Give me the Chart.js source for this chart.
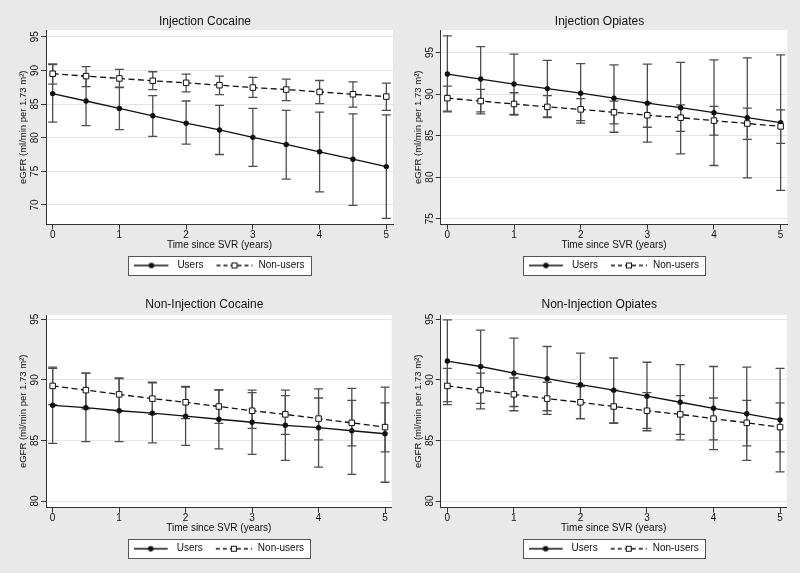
<!DOCTYPE html>
<html>
<head>
<meta charset="utf-8">
<title>eGFR after SVR by drug use</title>
<script src="https://cdn.jsdelivr.net/npm/chart.js@4.4.1/dist/chart.umd.min.js"></script>
<style>
    html, body { margin: 0; padding: 0; background: #e9e9e9; }
    #wrap { position: relative; width: 800px; height: 573px; overflow: hidden; }
    #wrap canvas { position: absolute; }
</style>
</head>
<body>
<div id="wrap">
    <canvas id="injCocaine" width="400" height="286" style="left:0;top:0"></canvas>
    <canvas id="injOpiates" width="400" height="286" style="left:400px;top:0"></canvas>
    <canvas id="nonInjCocaine" width="400" height="287" style="left:0;top:286px"></canvas>
    <canvas id="nonInjOpiates" width="400" height="287" style="left:400px;top:286px"></canvas>
</div>
<script>
// Time points (years since SVR)
const years = [0, 0.5, 1, 1.5, 2, 2.5, 3, 3.5, 4, 4.5, 5];

// Non-users (same reference group in every panel)
const nonUsersMean = [89.5, 89.15, 88.8, 88.45, 88.15, 87.8, 87.45, 87.15, 86.8, 86.45, 86.1];
const nonUsersLo   = [87.95, 87.6, 87.45, 87.15, 86.8, 86.4, 86.0, 85.5, 85.05, 84.55, 84.05];
const nonUsersHi   = [90.95, 90.55, 90.15, 89.8, 89.45, 89.15, 88.95, 88.7, 88.5, 88.3, 88.1];

// Injection cocaine users
const injCocaineMean = [86.55, 85.45, 84.35, 83.25, 82.15, 81.15, 80.05, 79.0, 77.9, 76.8, 75.7];
const injCocaineLo   = [82.3, 81.8, 81.2, 80.2, 79.05, 77.5, 75.75, 73.85, 71.95, 69.95, 68.0];
const injCocaineHi   = [90.85, 89.1, 87.5, 86.25, 85.45, 84.8, 84.35, 84.05, 83.8, 83.55, 83.4];

// Injection opiates users
const injOpiatesMean = [92.4, 91.8, 91.2, 90.65, 90.1, 89.5, 88.9, 88.35, 87.75, 87.15, 86.55];
const injOpiatesLo   = [87.85, 87.85, 87.55, 87.25, 86.5, 85.4, 84.2, 82.8, 81.4, 79.9, 78.4];
const injOpiatesHi   = [97.0, 95.7, 94.8, 94.05, 93.65, 93.5, 93.6, 93.8, 94.1, 94.35, 94.7];

// Non-injection cocaine users
const nonInjCocaineMean = [87.9, 87.7, 87.45, 87.25, 87.0, 86.75, 86.5, 86.25, 86.05, 85.8, 85.55];
const nonInjCocaineLo   = [84.75, 84.9, 84.9, 84.8, 84.6, 84.3, 83.85, 83.35, 82.8, 82.2, 81.55];
const nonInjCocaineHi   = [91.05, 90.55, 90.1, 89.75, 89.4, 89.2, 89.15, 89.15, 89.25, 89.3, 89.4];

// Non-injection opiates users
const nonInjOpiatesMean = [91.55, 91.1, 90.55, 90.1, 89.6, 89.15, 88.65, 88.15, 87.65, 87.2, 86.7];
const nonInjOpiatesLo   = [88.2, 88.05, 87.8, 87.45, 86.8, 86.45, 85.8, 85.05, 84.25, 83.35, 82.4];
const nonInjOpiatesHi   = [94.95, 94.1, 93.45, 92.75, 92.2, 91.8, 91.45, 91.25, 91.1, 91.05, 90.95];

const xTitle = 'Time since SVR (years)';
const yTitle = 'eGFR (ml/min per 1.73 m\u00B2)';
const legendLabels = ['Users', 'Non-users'];

Chart.defaults.font.family = '"Liberation Sans", Arial, Helvetica, sans-serif';
Chart.defaults.color = '#111';

const INK = '#111111';
const AXIS = '#333333';
const WHISKER = '#4d4d4d';

function toPoints(values) {
    return years.map((t, i) => ({ x: t, y: values[i] }));
}

// vertical segment lo-hi at each time, broken by a null point
function whiskers(lo, hi) {
    const pts = [];
    years.forEach((t, i) => {
        pts.push({ x: t, y: lo[i] }, { x: t, y: hi[i] }, { x: t, y: null });
    });
    return pts;
}

// Legend keys: line sample with marker, like the Stata key
function makeKey(dashed) {
    const c = document.createElement('canvas');
    c.width = 38;
    c.height = 10;
    const g = c.getContext('2d');
    g.strokeStyle = INK;
    g.lineWidth = 1.3;
    if (dashed) {
        g.setLineDash([4, 3]);
        g.beginPath(); g.moveTo(1, 5); g.lineTo(37, 5); g.stroke();
        g.setLineDash([]);
        g.fillStyle = '#fff';
        g.lineWidth = 1;
        g.fillRect(16, 2, 6, 6);
        g.strokeRect(16.5, 2.5, 5, 5);
    } else {
        g.beginPath(); g.moveTo(0, 5); g.lineTo(34, 5); g.stroke();
        g.fillStyle = INK;
        g.beginPath(); g.arc(17, 5, 2.8, 0, Math.PI * 2); g.fill();
    }
    return c;
}
const usersKey = makeKey(false);
const nonUsersKey = makeKey(true);

// grey page, white plot region and framed legend
const stataFrame = {
    id: 'stataFrame',
    beforeDraw(chart) {
        const { ctx, chartArea: a, legend } = chart;
        ctx.save();
        ctx.fillStyle = '#e9e9e9';
        ctx.fillRect(0, 0, chart.width, chart.height);
        ctx.fillStyle = '#ffffff';
        ctx.fillRect(a.left, a.top, a.right - a.left, a.bottom - a.top);

        const boxes = legend && legend.legendHitBoxes;
        if (boxes && boxes.length) {
            const lab = legend.options.labels;
            const first = boxes[0];
            const last = boxes[boxes.length - 1];
            const x1 = Math.round(first.left - 6) + 0.5;
            const x2 = Math.round(last.left + last.width + 6) + 0.5;
            const cy = legend.top + lab.padding + lab.font.size / 2;
            const y1 = Math.round(cy - 9.5) + 0.5;
            ctx.fillStyle = '#ffffff';
            ctx.fillRect(x1, y1, x2 - x1, 19);
            ctx.strokeStyle = '#555';
            ctx.lineWidth = 1;
            ctx.strokeRect(x1, y1, x2 - x1, 19);
        }
        ctx.restore();
    }
};

function initPanel(canvasId, cfg) {
    const ctx = document.getElementById(canvasId);
    if (!ctx) {
        console.error(`Canvas element with ID '${canvasId}' not found`);
        return null;
    }

    return new Chart(ctx, {
        type: 'line',
        data: {
            datasets: [
                {
                    label: 'Non-users',
                    data: toPoints(nonUsersMean),
                    borderColor: INK,
                    borderWidth: 1.3,
                    borderDash: [6, 3.5],
                    pointStyle: 'rect',
                    pointRadius: 3.9,
                    pointBackgroundColor: '#ffffff',
                    pointBorderColor: INK,
                    pointBorderWidth: 1
                },
                {
                    label: 'Users',
                    data: toPoints(cfg.mean),
                    borderColor: INK,
                    borderWidth: 1.3,
                    pointStyle: 'circle',
                    pointRadius: 2.7,
                    pointBackgroundColor: INK,
                    pointBorderColor: INK,
                    pointBorderWidth: 0
                },
                {
                    label: 'Users CI',
                    data: whiskers(cfg.lo, cfg.hi),
                    borderColor: WHISKER,
                    borderWidth: 1.3,
                    spanGaps: false,
                    pointStyle: 'line',
                    pointRadius: 4.5,
                    pointBorderColor: WHISKER,
                    pointBorderWidth: 1.3
                },
                {
                    label: 'Non-users CI',
                    data: whiskers(nonUsersLo, nonUsersHi),
                    borderColor: WHISKER,
                    borderWidth: 1.3,
                    spanGaps: false,
                    pointStyle: 'line',
                    pointRadius: 4.5,
                    pointBorderColor: WHISKER,
                    pointBorderWidth: 1.3
                }
            ]
        },
        options: {
            responsive: false,
            animation: false,
            events: [],
            layout: {
                padding: { left: cfg.padL, right: cfg.padR, top: 0, bottom: cfg.padB }
            },
            plugins: {
                title: {
                    display: true,
                    text: cfg.title,
                    color: INK,
                    font: { size: 12, weight: 'normal' },
                    padding: { top: cfg.titleTop, bottom: cfg.titleBottom }
                },
                legend: {
                    position: 'bottom',
                    fullSize: false,
                    labels: {
                        usePointStyle: true,
                        pointStyleWidth: 38,
                        padding: 12,
                        color: INK,
                        font: { size: 10 },
                        generateLabels: () => [
                            { text: legendLabels[0], pointStyle: usersKey, fontColor: INK, lineWidth: 0, hidden: false, datasetIndex: 1 },
                            { text: legendLabels[1], pointStyle: nonUsersKey, fontColor: INK, lineWidth: 0, hidden: false, datasetIndex: 0 }
                        ]
                    }
                },
                tooltip: { enabled: false }
            },
            scales: {
                x: {
                    type: 'linear',
                    min: -0.1,
                    max: 5.1,
                    afterFit: (scale) => { scale.height = 24; },
                    border: { color: AXIS, width: 1 },
                    grid: { drawOnChartArea: false, tickLength: 5, tickColor: AXIS },
                    ticks: {
                        stepSize: 1,
                        includeBounds: false,
                        padding: 1,
                        color: INK,
                        font: { size: 10, lineHeight: 1 }
                    },
                    title: {
                        display: true,
                        text: xTitle,
                        color: INK,
                        font: { size: 10, lineHeight: 0.6 },
                        padding: 0
                    }
                },
                y: {
                    min: cfg.yMin,
                    max: cfg.yMax,
                    afterFit: (scale) => { scale.width = 29; },
                    border: { color: AXIS, width: 1 },
                    grid: { color: '#e4e4e4', tickLength: 5, tickColor: AXIS },
                    ticks: {
                        stepSize: 5,
                        includeBounds: false,
                        minRotation: 90,
                        maxRotation: 90,
                        crossAlign: 'center',
                        padding: 0,
                        color: INK,
                        font: { size: 10 }
                    },
                    title: {
                        display: true,
                        text: yTitle,
                        color: INK,
                        font: { size: 9.5, lineHeight: 1 },
                        padding: { top: 1.5, bottom: 0 }
                    }
                }
            }
        },
        plugins: [stataFrame]
    });
}

initPanel('injCocaine', {
    title: 'Injection Cocaine',
    mean: injCocaineMean, lo: injCocaineLo, hi: injCocaineHi,
    yMin: 67.1, yMax: 96.0,
    padL: 17, padR: 7, padB: 5.5, titleTop: 14.8, titleBottom: 0.8
});

initPanel('injOpiates', {
    title: 'Injection Opiates',
    mean: injOpiatesMean, lo: injOpiatesLo, hi: injOpiatesHi,
    yMin: 74.3, yMax: 97.7,
    padL: 11.7, padR: 12.7, padB: 5.5, titleTop: 14.8, titleBottom: 0.8
});

initPanel('nonInjCocaine', {
    title: 'Non-Injection Cocaine',
    mean: nonInjCocaineMean, lo: nonInjCocaineLo, hi: nonInjCocaineHi,
    yMin: 79.45, yMax: 95.35,
    padL: 17, padR: 8.3, padB: 9.3, titleTop: 11.8, titleBottom: 2.8
});

initPanel('nonInjOpiates', {
    title: 'Non-Injection Opiates',
    mean: nonInjOpiatesMean, lo: nonInjOpiatesLo, hi: nonInjOpiatesHi,
    yMin: 79.45, yMax: 95.35,
    padL: 11.7, padR: 13.3, padB: 9.3, titleTop: 11.8, titleBottom: 2.8
});
</script>
</body>
</html>
